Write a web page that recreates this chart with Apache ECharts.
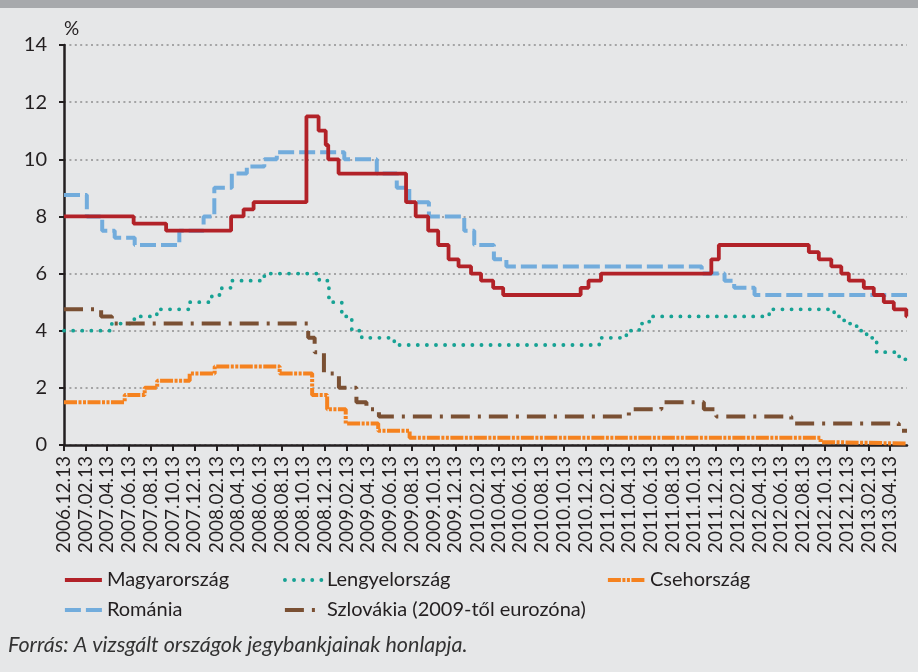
<!DOCTYPE html>
<html>
<head>
<meta charset="utf-8">
<script src="https://cdn.jsdelivr.net/npm/echarts@6/dist/echarts.min.js"></script>
<style>
html, body { margin: 0; padding: 0; background: #e6e7e8; }
#chart { width: 918px; height: 672px; }
</style>
</head>
<body>
<div id="chart"></div>
<script>
// tick labels on the date axis (every 2 months)
const tickLabels = [
    '2006.12.13', '2007.02.13', '2007.04.13', '2007.06.13', '2007.08.13', '2007.10.13', '2007.12.13',
    '2008.02.13', '2008.04.13', '2008.06.13', '2008.08.13', '2008.10.13', '2008.12.13',
    '2009.02.13', '2009.04.13', '2009.06.13', '2009.08.13', '2009.10.13', '2009.12.13',
    '2010.02.13', '2010.04.13', '2010.06.13', '2010.08.13', '2010.10.13', '2010.12.13',
    '2011.02.13', '2011.04.13', '2011.06.13', '2011.08.13', '2011.10.13', '2011.12.13',
    '2012.02.13', '2012.04.13', '2012.06.13', '2012.08.13', '2012.10.13', '2012.12.13',
    '2013.02.13', '2013.04.13'
];
const startDate = '2006.12.13';
const endDate = '2013.05.31';
const yTicks = [0, 2, 4, 6, 8, 10, 12, 14];

// policy rates, % : [date of change, new rate]
const magyarorszag = [
    ['2006.12.13', 8.00], ['2007.06.26', 7.75], ['2007.09.25', 7.50], ['2008.03.25', 8.00],
    ['2008.04.29', 8.25], ['2008.05.27', 8.50], ['2008.10.22', 11.50], ['2008.11.25', 11.00],
    ['2008.12.15', 10.50], ['2008.12.22', 10.00], ['2009.01.20', 9.50], ['2009.07.28', 8.50],
    ['2009.08.24', 8.00], ['2009.09.28', 7.50], ['2009.10.26', 7.00], ['2009.11.24', 6.50],
    ['2009.12.22', 6.25], ['2010.01.26', 6.00], ['2010.02.23', 5.75], ['2010.03.29', 5.50],
    ['2010.04.26', 5.25], ['2010.11.29', 5.50], ['2010.12.21', 5.75], ['2011.01.25', 6.00],
    ['2011.11.30', 6.50], ['2011.12.21', 7.00], ['2012.08.29', 6.75], ['2012.09.26', 6.50],
    ['2012.10.31', 6.25], ['2012.11.28', 6.00], ['2012.12.19', 5.75], ['2013.01.30', 5.50],
    ['2013.02.27', 5.25], ['2013.03.27', 5.00], ['2013.04.24', 4.75], ['2013.05.29', 4.50]
];
const romania = [
    ['2006.12.13', 8.75], ['2007.02.15', 8.00], ['2007.03.30', 7.50], ['2007.05.04', 7.25],
    ['2007.06.29', 7.00], ['2007.11.01', 7.50], ['2008.01.08', 8.00], ['2008.02.07', 9.00],
    ['2008.03.27', 9.50], ['2008.05.08', 9.75], ['2008.06.26', 10.00], ['2008.07.31', 10.25],
    ['2009.02.05', 10.00], ['2009.05.07', 9.50], ['2009.07.02', 9.00], ['2009.08.06', 8.50],
    ['2009.09.30', 8.00], ['2010.01.07', 7.50], ['2010.02.04', 7.00], ['2010.03.31', 6.50],
    ['2010.05.05', 6.25], ['2011.11.03', 6.00], ['2012.01.06', 5.75], ['2012.02.02', 5.50],
    ['2012.03.30', 5.25]
];
const lengyelorszag = [
    ['2006.12.13', 4.00], ['2007.04.26', 4.25], ['2007.06.28', 4.50], ['2007.08.30', 4.75],
    ['2007.11.29', 5.00], ['2008.01.31', 5.25], ['2008.02.28', 5.50], ['2008.03.27', 5.75],
    ['2008.06.26', 6.00], ['2008.11.27', 5.75], ['2008.12.24', 5.00], ['2009.01.29', 4.50],
    ['2009.02.26', 4.00], ['2009.03.26', 3.75], ['2009.06.25', 3.50], ['2011.01.20', 3.75],
    ['2011.04.06', 4.00], ['2011.05.12', 4.25], ['2011.06.09', 4.50], ['2012.05.10', 4.75],
    ['2012.11.08', 4.50], ['2012.12.06', 4.25], ['2013.01.10', 4.00], ['2013.02.07', 3.75],
    ['2013.03.07', 3.25], ['2013.05.09', 3.00]
];
const csehorszag = [
    ['2006.12.13', 1.50], ['2007.06.01', 1.75], ['2007.07.27', 2.00], ['2007.08.31', 2.25],
    ['2007.11.30', 2.50], ['2008.02.08', 2.75], ['2008.08.08', 2.50], ['2008.11.07', 1.75],
    ['2008.12.19', 1.25], ['2009.02.09', 0.75], ['2009.05.11', 0.50], ['2009.08.07', 0.25],
    ['2012.10.01', 0.10], ['2012.11.02', 0.05]
];
const szlovakia = [
    ['2006.12.13', 4.75], ['2007.03.27', 4.50], ['2007.04.26', 4.25], ['2008.10.27', 3.75],
    ['2008.11.14', 3.25], ['2008.12.10', 2.50], ['2009.01.21', 2.00], ['2009.03.11', 1.50],
    ['2009.04.08', 1.25], ['2009.05.13', 1.00], ['2011.04.13', 1.25], ['2011.07.13', 1.50],
    ['2011.11.09', 1.25], ['2011.12.14', 1.00], ['2012.07.11', 0.75], ['2013.05.08', 0.50]
];

const TEXT = '#231f20';
const FONT = 'Lato';

function toTime(s) {
    const p = s.split('.');
    return new Date(+p[0], +p[1] - 1, +p[2]).getTime();
}
function pad(n) {
    return n < 10 ? '0' + n : '' + n;
}
function fmtDate(v) {
    const d = new Date(v);
    return d.getFullYear() + '.' + pad(d.getMonth() + 1) + '.' + pad(d.getDate());
}
// change points -> [time, value], held flat until the end of the period
function toSeries(rows) {
    const out = rows.map(function (r) { return [toTime(r[0]), r[1]]; });
    out.push([toTime(endDate), rows[rows.length - 1][1]]);
    return out;
}
function stepLine(name, rows, color, type, width, cap) {
    return {
        name: name,
        type: 'line',
        step: 'end',
        symbol: 'none',
        data: toSeries(rows),
        itemStyle: { color: color },
        lineStyle: { color: color, width: width, type: type, cap: cap || 'butt' }
    };
}

const tickTimes = tickLabels.map(toTime);

let myChart = echarts.init(document.getElementById('chart'));
let legendBase = {
    orient: 'vertical',
    top: 570,
    padding: 0,
    itemGap: 10,
    itemWidth: 37,
    itemHeight: 14,
    itemTextGap: 7,
    textStyle: { fontFamily: FONT, fontSize: 20, color: TEXT },
    lineStyle: { width: 3.8 },
    itemStyle: { opacity: 0 }
};
let option = {
    backgroundColor: '#e6e7e8',
    animation: false,
    grid: { left: 64, right: 11, top: 45, bottom: 227 },
    legend: [
        Object.assign({}, legendBase, { left: 63, data: ['Magyarország', 'Románia'] }),
        Object.assign({}, legendBase, { left: 283, data: ['Lengyelország', 'Szlovákia (2009-től eurozóna)'] }),
        Object.assign({}, legendBase, { left: 606, data: ['Csehország'] })
    ],
    xAxis: {
        type: 'value',
        min: toTime(startDate),
        max: toTime(endDate),
        splitLine: { show: false },
        axisLine: { lineStyle: { color: TEXT, width: 2.5 } },
        axisTick: { show: true, customValues: tickTimes, length: 6, lineStyle: { color: TEXT, width: 2 } },
        axisLabel: {
            customValues: tickTimes,
            rotate: 90,
            margin: 11,
            fontFamily: FONT,
            fontSize: 19,
            color: TEXT,
            formatter: function (v) { return fmtDate(v); }
        }
    },
    yAxis: {
        type: 'value',
        min: 0,
        max: 14,
        interval: 2,
        name: '%',
        nameGap: 7,
        nameTextStyle: { fontFamily: FONT, fontSize: 19, color: TEXT, align: 'left' },
        axisLine: { show: true, lineStyle: { color: TEXT, width: 2.5 } },
        axisTick: { show: true, length: 5, lineStyle: { color: TEXT, width: 2 } },
        axisLabel: {
            margin: 17,
            fontFamily: FONT,
            fontSize: 20,
            color: TEXT,
            formatter: function (v) { return yTicks.indexOf(v) >= 0 ? String(v) : ''; }
        },
        splitLine: { show: true, lineStyle: { color: '#8e8e8e', width: 1.5, type: [2, 3.4] } }
    },
    graphic: [
        { type: 'rect', left: 0, top: 0, shape: { width: 918, height: 8 }, style: { fill: '#a7a9ac' } },
        {
            type: 'text', left: 8, top: 634,
            style: {
                text: 'Forrás: A vizsgált országok jegybankjainak honlapja.',
                fontFamily: FONT, fontStyle: 'italic', fontSize: 21.5, fill: '#333333'
            }
        }
    ],
    series: [
        stepLine('Románia', romania, '#72acdc', [16, 5], 4),
        stepLine('Lengyelország', lengyelorszag, '#17a294', [0.1, 9], 3.8, 'round'),
        stepLine('Szlovákia (2009-től eurozóna)', szlovakia, '#7a5033', [19, 8, 3, 8], 4),
        stepLine('Csehország', csehorszag, '#f5821f', [13, 1.5, 3, 1.5, 3, 1.5], 4),
        stepLine('Magyarország', magyarorszag, '#b22228', 'solid', 3.8)
    ]
};
myChart.setOption(option);
</script>
</body>
</html>
